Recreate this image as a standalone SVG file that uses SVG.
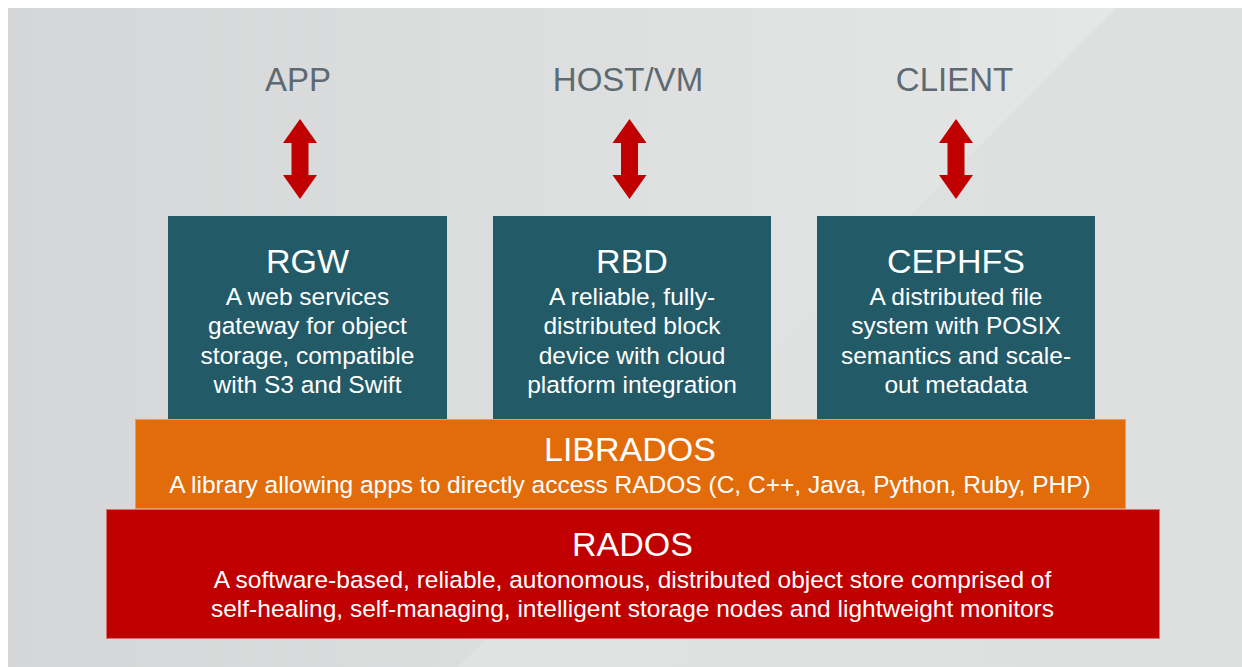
<svg xmlns="http://www.w3.org/2000/svg" width="1242" height="667" viewBox="0 0 1242 667">
<defs>
<linearGradient id="bgL" x1="0" y1="0" x2="1" y2="0">
<stop offset="0" stop-color="#D5D6D7"/>
<stop offset="1" stop-color="#E7E8E8"/>
</linearGradient>
<linearGradient id="bgR" x1="0" y1="0" x2="1" y2="0">
<stop offset="0" stop-color="#E1E2E2"/>
<stop offset="1" stop-color="#DDDEDE"/>
</linearGradient>
<style>
.lbl{font-family:"Liberation Sans",Arial,sans-serif;font-size:33px;fill:#5E6A71;text-anchor:middle}
.ttl{font-family:"Liberation Sans",Arial,sans-serif;font-size:34px;fill:#FFFFFF;text-anchor:middle}
.txt{font-family:"Liberation Sans",Arial,sans-serif;font-size:24.5px;fill:#FFFFFF;text-anchor:middle}
.teal{fill:#235A67}
.arrow{fill:#C00000}
</style>
</defs>
<rect x="0" y="0" width="1242" height="667" fill="#FFFFFF"/>
<rect x="8" y="8" width="1234" height="659" fill="url(#bgL)"/>
<polygon points="1117,8 1242,8 1242,667 458,667" fill="url(#bgR)"/>

<g id="labels">
<text class="lbl" x="298" y="91">APP</text>
<text class="lbl" x="628" y="91">HOST/VM</text>
<text class="lbl" x="954.5" y="91">CLIENT</text>
</g>

<g id="connectors">
<polygon class="arrow" points="300,119 317,143 308.5,143 308.5,175 317,175 300,199 283,175 291.5,175 291.5,143 283,143"/>
<polygon class="arrow" points="629.5,119 646.5,143 638,143 638,175 646.5,175 629.5,199 612.5,175 621,175 621,143 612.5,143"/>
<polygon class="arrow" points="956,119 973,143 964.5,143 964.5,175 973,175 956,199 939,175 947.5,175 947.5,143 939,143"/>
</g>

<g id="rgw">
<rect class="teal" x="168" y="216" width="279" height="204"/>
<text class="ttl" x="307.5" y="273">RGW</text>
<text class="txt" x="307.5" y="305">A web services</text>
<text class="txt" x="307.5" y="334">gateway for object</text>
<text class="txt" x="307.5" y="364">storage, compatible</text>
<text class="txt" x="307.5" y="393">with S3 and Swift</text>
</g>

<g id="rbd">
<rect class="teal" x="493" y="216" width="278" height="204"/>
<text class="ttl" x="632" y="273">RBD</text>
<text class="txt" x="632" y="305">A reliable, fully-</text>
<text class="txt" x="632" y="334">distributed block</text>
<text class="txt" x="632" y="364">device with cloud</text>
<text class="txt" x="632" y="393">platform integration</text>
</g>

<g id="cephfs">
<rect class="teal" x="817" y="216" width="278" height="204"/>
<text class="ttl" x="956" y="273">CEPHFS</text>
<text class="txt" x="956" y="305">A distributed file</text>
<text class="txt" x="956" y="334">system with POSIX</text>
<text class="txt" x="956" y="364">semantics and scale-</text>
<text class="txt" x="956" y="393">out metadata</text>
</g>

<g id="librados">
<rect x="135.5" y="419.5" width="990" height="89" fill="#E36C0A" stroke="#EB9A5C" stroke-width="1"/>
<text class="ttl" x="630" y="461">LIBRADOS</text>
<text class="txt" x="630" y="493">A library allowing apps to directly access RADOS (C, C++, Java, Python, Ruby, PHP)</text>
</g>

<g id="rados">
<rect x="106.5" y="509.5" width="1053" height="129" fill="#C00000" stroke="#D97070" stroke-width="1"/>
<text class="ttl" x="632.5" y="556">RADOS</text>
<text class="txt" x="632.5" y="588">A software-based, reliable, autonomous, distributed object store comprised of</text>
<text class="txt" x="632.5" y="617">self-healing, self-managing, intelligent storage nodes and lightweight monitors</text>
</g>
</svg>
